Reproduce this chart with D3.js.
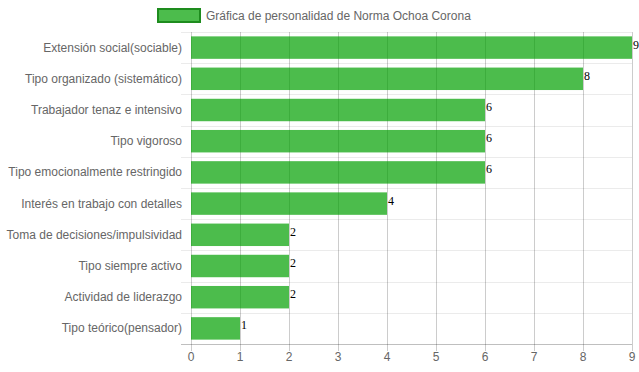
<!DOCTYPE html>
<html>
<head>
<meta charset="utf-8">
<script src="https://cdn.jsdelivr.net/npm/d3@7"></script>
<style>
  body { margin: 0; background: #fff; }
  svg { display: block; font-family: Arial, "Liberation Sans", Helvetica, sans-serif; }
</style>
</head>
<body>
<svg width="639" height="372"></svg>
<script>
// data
var categories = [
  "Extensión social(sociable)",
  "Tipo organizado (sistemático)",
  "Trabajador tenaz e intensivo",
  "Tipo vigoroso",
  "Tipo emocionalmente restringido",
  "Interés en trabajo con detalles",
  "Toma de decisiones/impulsividad",
  "Tipo siempre activo",
  "Actividad de liderazgo",
  "Tipo teórico(pensador)"
];
var values = [9, 8, 6, 6, 6, 4, 2, 2, 2, 1];
var xTicks = [0, 1, 2, 3, 4, 5, 6, 7, 8, 9];
var seriesName = "Gráfica de personalidad de Norma Ochoa Corona";

var width = 639, height = 372;
var margin = {left: 191, right: 7, top: 32, bottom: 28};
var plotW = width - margin.left - margin.right;
var plotH = height - margin.top - margin.bottom;

var barFill = "rgba(0,160,0,0.7)";
var barStroke = "#1e8c1e";

var svg = d3.select("svg");

var x = d3.scaleLinear().domain([0, 9]).range([margin.left, margin.left + plotW]);
var y = d3.scaleBand().domain(categories).range([margin.top, margin.top + plotH]);
var barH = y.bandwidth() * 0.72;

// horizontal grid (category boundaries)
var bounds = categories.map(function(c) { return y(c); });
svg.append("g").selectAll("line")
  .data(bounds)
  .enter().append("line")
  .attr("x1", margin.left - 10).attr("x2", margin.left + plotW)
  .attr("y1", function(d) { return Math.round(d) + 0.5; })
  .attr("y2", function(d) { return Math.round(d) + 0.5; })
  .attr("stroke", "rgba(0,0,0,0.08)");

// vertical grid
svg.append("g").selectAll("line")
  .data(xTicks)
  .enter().append("line")
  .attr("x1", function(d) { return Math.round(x(d)) + 0.5; })
  .attr("x2", function(d) { return Math.round(x(d)) + 0.5; })
  .attr("y1", margin.top)
  .attr("y2", margin.top + plotH + 7)
  .attr("stroke", "rgba(0,0,0,0.2)");

// bottom axis line
svg.append("line")
  .attr("x1", margin.left - 10).attr("x2", margin.left + plotW)
  .attr("y1", margin.top + plotH + 0.5).attr("y2", margin.top + plotH + 0.5)
  .attr("stroke", "rgba(0,0,0,0.25)");

// bars
svg.append("g").selectAll("rect")
  .data(values)
  .enter().append("rect")
  .attr("x", x(0))
  .attr("y", function(d, i) { return y(categories[i]) + (y.bandwidth() - barH) / 2; })
  .attr("width", function(d) { return x(d) - x(0); })
  .attr("height", barH)
  .attr("fill", barFill);

// value labels
svg.append("g").selectAll("text")
  .data(values)
  .enter().append("text")
  .attr("x", function(d) { return x(d) + 1; })
  .attr("y", function(d, i) { return y(categories[i]) + y.bandwidth() / 2 + 1; })
  .attr("font-family", "'Liberation Serif', 'Times New Roman', serif")
  .attr("font-size", 12)
  .attr("fill", "#000")
  .text(function(d) { return d; });

// category labels
svg.append("g").selectAll("text")
  .data(categories)
  .enter().append("text")
  .attr("x", margin.left - 9)
  .attr("y", function(d) { return y(d) + y.bandwidth() / 2; })
  .attr("text-anchor", "end")
  .attr("dominant-baseline", "central")
  .attr("font-size", 12)
  .attr("fill", "#666")
  .text(function(d) { return d; });

// x tick labels
svg.append("g").selectAll("text")
  .data(xTicks)
  .enter().append("text")
  .attr("x", function(d) { return x(d); })
  .attr("y", margin.top + plotH + 13)
  .attr("text-anchor", "middle")
  .attr("dominant-baseline", "central")
  .attr("font-size", 12)
  .attr("fill", "#666")
  .text(function(d) { return d; });

// legend
var legend = svg.append("g");
legend.append("rect")
  .attr("x", 158).attr("y", 9)
  .attr("width", 42).attr("height", 13)
  .attr("fill", barFill)
  .attr("stroke", barStroke)
  .attr("stroke-width", 2);
legend.append("text")
  .attr("x", 206).attr("y", 15.5)
  .attr("dominant-baseline", "central")
  .attr("font-size", 12)
  .attr("fill", "#666")
  .text(seriesName);
</script>
</body>
</html>
